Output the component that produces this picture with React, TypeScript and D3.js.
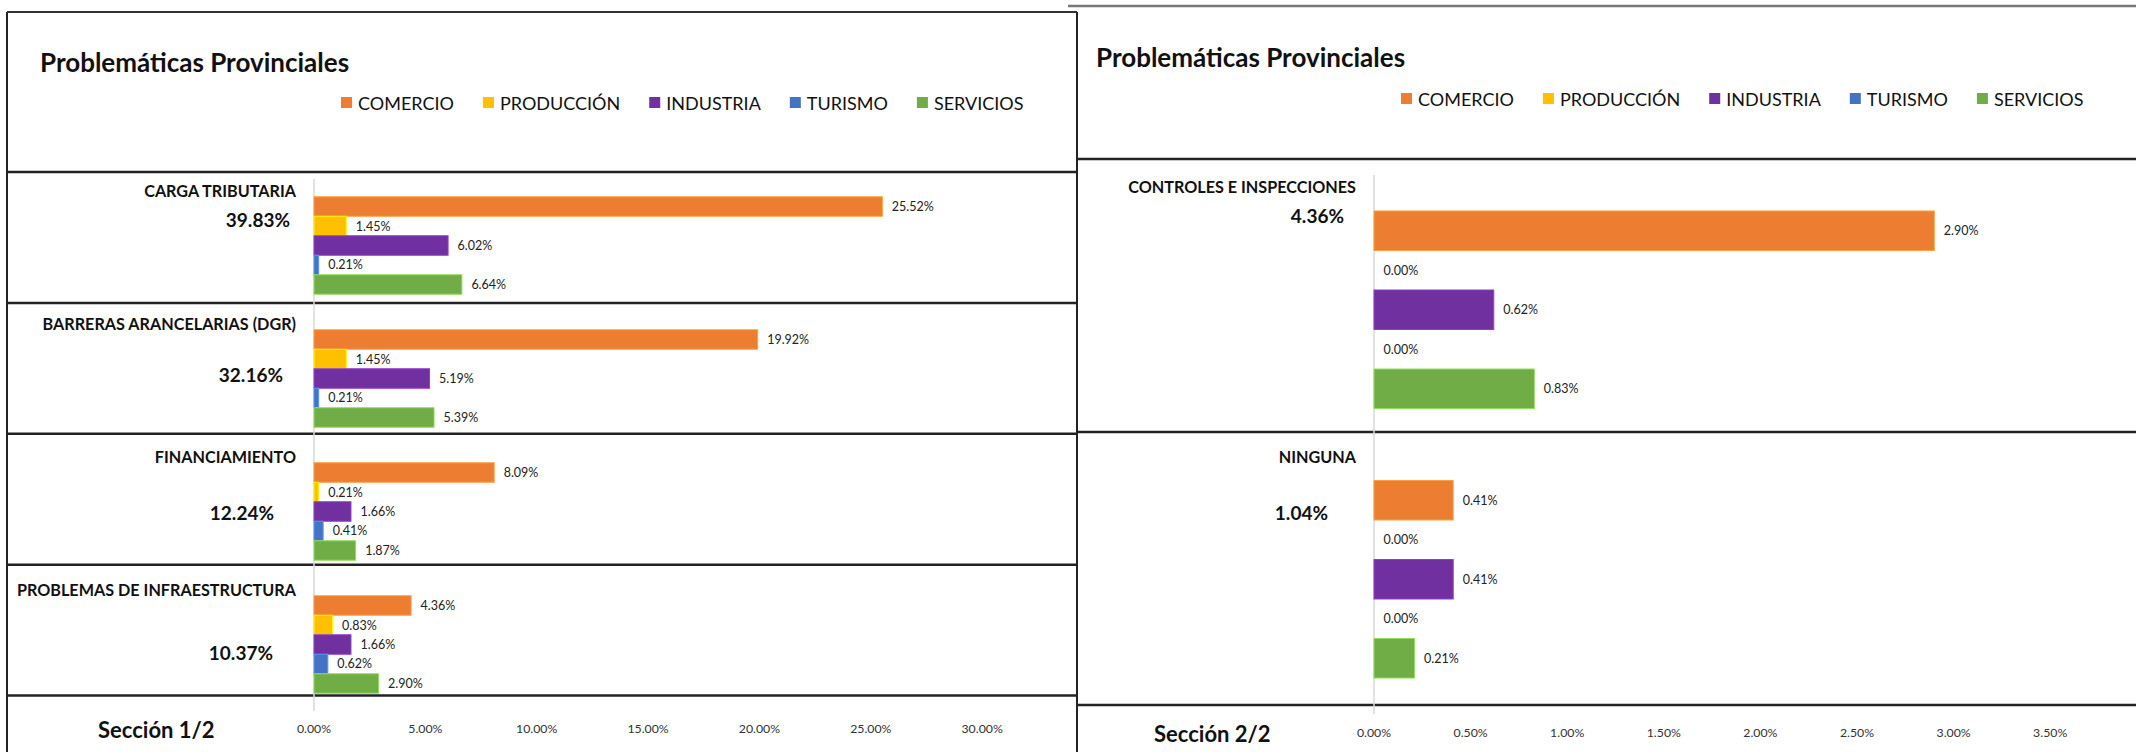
import React, { useRef, useEffect } from 'react';
import * as d3 from 'd3';

const series = ['COMERCIO', 'PRODUCCIÓN', 'INDUSTRIA', 'TURISMO', 'SERVICIOS'];
const colors = ['#ED7D31', '#FFC000', '#7030A0', '#4472C4', '#70AD47'];

// Sección 1/2
const categories1 = ['CARGA TRIBUTARIA', 'BARRERAS ARANCELARIAS (DGR)', 'FINANCIAMIENTO', 'PROBLEMAS DE INFRAESTRUCTURA'];
const totals1 = [39.83, 32.16, 12.24, 10.37];
const comercio1 = [25.52, 19.92, 8.09, 4.36];
const produccion1 = [1.45, 1.45, 0.21, 0.83];
const industria1 = [6.02, 5.19, 1.66, 1.66];
const turismo1 = [0.21, 0.21, 0.41, 0.62];
const servicios1 = [6.64, 5.39, 1.87, 2.9];
const ticks1 = [0, 5, 10, 15, 20, 25, 30];

// Sección 2/2
const categories2 = ['CONTROLES E INSPECCIONES', 'NINGUNA'];
const totals2 = [4.36, 1.04];
const comercio2 = [2.9, 0.41];
const produccion2 = [0, 0];
const industria2 = [0.62, 0.41];
const turismo2 = [0, 0];
const servicios2 = [0.83, 0.21];
const ticks2 = [0, 0.5, 1, 1.5, 2, 2.5, 3, 3.5];

const FONT = "Lato, 'Open Sans', sans-serif";
const fmt = (v) => d3.format('.2f')(v) + '%';

const panels = [
  {
    categories: categories1,
    totals: totals1,
    values: [comercio1, produccion1, industria1, turismo1, servicios1],
    ticks: ticks1,
    max: 35,
    x0: 314, x1: 1093.5,
    top: 179, bottom: 711,
    frame: { left: 7, right: 1077, top: 12, header: 172, rowGap: 130.9 },
    title: { x: 40, y: 72 },
    legend: { x: 341, y: 103 },
    section: { text: 'Sección 1/2', x: 98, y: 738 },
    tickY: 733,
    totalOffsets: [[-24, 48], [-31, 70], [-40, 75], [-41, 82]],
  },
  {
    categories: categories2,
    totals: totals2,
    values: [comercio2, produccion2, industria2, turismo2, servicios2],
    ticks: ticks2,
    max: 4,
    x0: 1374, x1: 2146.8,
    top: 175, bottom: 714,
    frame: { left: 1078, right: 2136, top: 6, header: 159, rowGap: 273 },
    title: { x: 1096, y: 67 },
    legend: { x: 1401, y: 99 },
    section: { text: 'Sección 2/2', x: 1154, y: 742 },
    tickY: 737,
    totalOffsets: [[-30, 48], [-46, 75.6]],
  },
];

function drawPanel(svg, p, idx) {
  const g = svg.append('g');
  const x = d3.scaleLinear().domain([0, p.max]).range([p.x0, p.x1]);
  const y = d3.scaleBand().domain(p.categories).range([p.top, p.bottom])
    .paddingInner(0.267).paddingOuter(0.1335);
  const ys = d3.scaleBand().domain(series).range([0, y.bandwidth()]);
  const pad = (y.step() - y.bandwidth()) / 2;

  // frame lines
  const f = p.frame;
  if (idx === 0) {
    g.append('line').attr('x1', f.left).attr('x2', f.left).attr('y1', f.top).attr('y2', 752)
      .attr('stroke', '#222').attr('stroke-width', 2);
    g.append('line').attr('x1', f.left).attr('x2', f.right).attr('y1', f.top).attr('y2', f.top)
      .attr('stroke', '#333').attr('stroke-width', 2);
    g.append('line').attr('x1', f.right).attr('x2', f.right).attr('y1', f.top).attr('y2', 752)
      .attr('stroke', '#222').attr('stroke-width', 2);
  } else {
    g.append('line').attr('x1', f.left - 10).attr('x2', f.right).attr('y1', f.top).attr('y2', f.top)
      .attr('stroke', '#777').attr('stroke-width', 2.5);
  }
  const rows = d3.range(p.categories.length + 1).map(i => f.header + i * f.rowGap);
  g.selectAll('line.row').data(rows).join('line')
    .attr('x1', f.left).attr('x2', f.right).attr('y1', d => d).attr('y2', d => d)
    .attr('stroke', '#222').attr('stroke-width', 2.5);

  // title
  g.append('text').attr('x', p.title.x).attr('y', p.title.y)
    .attr('font-family', FONT).attr('font-weight', 700).attr('font-size', 26)
    .attr('fill', '#111').text('Problemáticas Provinciales');

  // legend
  let lx = p.legend.x;
  series.forEach((s, i) => {
    g.append('rect').attr('x', lx).attr('y', p.legend.y - 6).attr('width', 11).attr('height', 11)
      .attr('fill', colors[i]);
    const t = g.append('text').attr('x', lx + 17).attr('y', p.legend.y)
      .attr('dominant-baseline', 'central')
      .attr('font-family', FONT).attr('font-size', 18).attr('fill', '#111').text(s);
    lx += 17 + t.node().getComputedTextLength() + 29;
  });

  // zero gridline
  g.append('line').attr('x1', x(0)).attr('x2', x(0)).attr('y1', p.top).attr('y2', p.bottom)
    .attr('stroke', '#D9D9D9').attr('stroke-width', 1.5);

  // bars
  p.categories.forEach((c, ci) => {
    const gy = y(c);
    series.forEach((s, si) => {
      const v = p.values[si][ci];
      const by = gy + ys(s);
      if (v > 0) {
        g.append('rect').attr('x', x(0)).attr('y', by)
          .attr('width', x(v) - x(0)).attr('height', ys.bandwidth())
          .attr('fill', colors[si])
          .attr('stroke', d3.color(colors[si]).brighter(0.7)).attr('stroke-width', 1);
      }
      g.append('text').attr('x', x(v) + 9.5).attr('y', by + ys.bandwidth() / 2)
        .attr('dominant-baseline', 'central')
        .attr('font-family', FONT).attr('font-size', 12.5).attr('fill', '#222')
        .text(fmt(v));
    });
    // category name and total
    const stepTop = gy - pad;
    g.append('text').attr('x', x(0) - 18).attr('y', stepTop + 18)
      .attr('text-anchor', 'end').attr('font-family', FONT).attr('font-weight', 700)
      .attr('font-size', 16.2).attr('fill', '#111').text(c);
    const [dx, dy] = p.totalOffsets[ci];
    g.append('text').attr('x', x(0) + dx).attr('y', stepTop + dy)
      .attr('text-anchor', 'end').attr('font-family', FONT).attr('font-weight', 700)
      .attr('font-size', 19).attr('fill', '#111').text(fmt(p.totals[ci]));
  });

  // axis tick labels
  g.selectAll('text.tick').data(p.ticks).join('text')
    .attr('x', d => x(d)).attr('y', p.tickY)
    .attr('text-anchor', 'middle').attr('font-family', FONT).attr('font-size', 12.3)
    .attr('fill', '#333').text(d => fmt(d));

  g.append('text').attr('x', p.section.x).attr('y', p.section.y)
    .attr('font-family', FONT).attr('font-weight', 700).attr('font-size', 22)
    .attr('fill', '#111').text(p.section.text);
}

const App = () => {
  const svgRef = useRef(null);

  useEffect(() => {
    document.body.style.margin = '0';
    const svg = d3.select(svgRef.current);
    svg.selectAll('*').remove();
    svg.append('rect').attr('width', 2136).attr('height', 752).attr('fill', '#fff');
    panels.forEach((p, i) => drawPanel(svg, p, i));
  }, []);

  return (
    <svg ref={svgRef} width={2136} height={752}
      style={{ display: 'block', position: 'absolute', left: 0, top: 0 }} />
  );
};

export default App;
